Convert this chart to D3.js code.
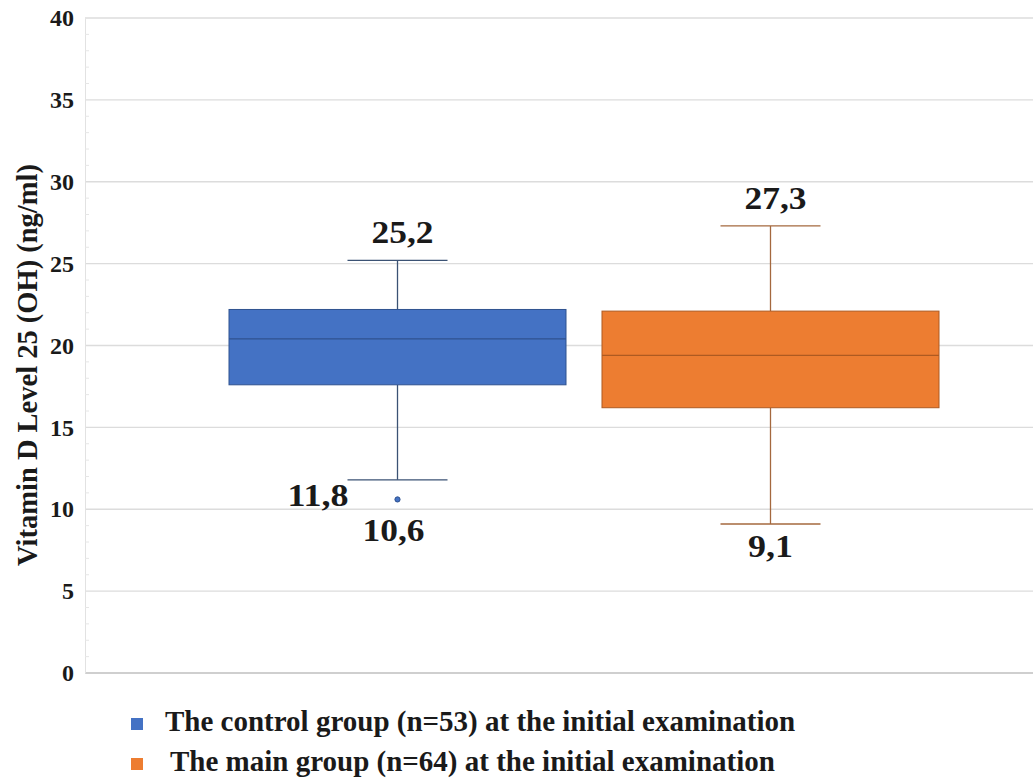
<!DOCTYPE html>
<html>
<head>
<meta charset="utf-8">
<script src="https://cdn.jsdelivr.net/npm/d3@7"></script>
<style>
  body { margin: 0; background: #fff; }
  text { font-family: "Liberation Serif", "Times New Roman", serif; font-weight: bold; fill: #1a1a1a; }
</style>
</head>
<body>
<div id="plot"></div>
<script>
// data
var groups = ["The control group (n=53) at the initial examination", "The main group (n=64) at the initial examination"]
var q1 = [17.6, 16.2]
var median = [20.4, 19.4]
var q3 = [22.2, 22.1]
var whiskerMin = [11.8, 9.1]
var whiskerMax = [25.2, 27.3]
var outliers = [[10.6], []]
var yTicks = [0, 5, 10, 15, 20, 25, 30, 35, 40]

var fills = ["#4472c4", "#ed7d31"]
var strokes = ["#2f528f", "#ae5a21"]
var whiskerColors = ["#3b5274", "#a4683e"]

var svgWidth = 1033
var svgHeight = 780
var margin = { top: 18, right: 0, bottom: 107, left: 85 }
var width = svgWidth - margin.left - margin.right
var height = svgHeight - margin.top - margin.bottom

var svg = d3.select("#plot")
  .append("svg")
  .attr("width", svgWidth)
  .attr("height", svgHeight)

var chartGroup = svg.append("g")
  .attr("transform", `translate(${margin.left}, ${margin.top})`)

var yScale = d3.scaleLinear()
  .domain([0, 40])
  .range([height, 0])

// boxes sit side by side inside the single category
var xScale = d3.scaleBand()
  .domain(groups)
  .range([144, 854])
  .paddingInner(0.0965)
  .paddingOuter(0)

// grid lines
chartGroup.append("g")
  .selectAll("line")
  .data(yTicks)
  .enter()
  .append("line")
  .attr("x1", 0)
  .attr("x2", width)
  .attr("y1", d => yScale(d))
  .attr("y2", d => yScale(d))
  .attr("stroke", d => d === 0 ? "#cfcfcf" : "#dcdcdc")
  .attr("stroke-width", d => d === 0 ? 2 : 1.3)

// left axis with minor ticks
var leftAxis = d3.axisLeft(yScale)
  .tickValues(yTicks)
  .tickSize(0)
  .tickPadding(11)
chartGroup.append("g")
  .call(leftAxis)
  .attr("font-family", "Liberation Serif")
  .attr("font-size", 24)
  .call(g => g.select(".domain").attr("stroke", "#e2e2e2"))
  .call(g => g.selectAll("text")
    .style("font-size", "24px")
    .style("font-weight", "bold")
    .attr("fill", "#1a1a1a"))

chartGroup.append("g")
  .selectAll("line")
  .data(d3.range(0, 41).filter(d => d % 5 !== 0))
  .enter()
  .append("line")
  .attr("x1", 0)
  .attr("x2", 4)
  .attr("y1", d => yScale(d))
  .attr("y2", d => yScale(d))
  .attr("stroke", "#e6e6e6")

// boxes
var boxes = chartGroup.selectAll(".box")
  .data(groups)
  .enter()
  .append("g")
  .attr("class", "box")

boxes.each(function (d, i) {
  var g = d3.select(this)
  var x0 = xScale(d)
  var bw = xScale.bandwidth()
  var cx = x0 + bw / 2
  var capW = 100

  // whiskers
  g.append("line")
    .attr("x1", cx).attr("x2", cx)
    .attr("y1", yScale(whiskerMax[i])).attr("y2", yScale(q3[i]))
    .attr("stroke", whiskerColors[i]).attr("stroke-width", 1.3)
  g.append("line")
    .attr("x1", cx).attr("x2", cx)
    .attr("y1", yScale(q1[i])).attr("y2", yScale(whiskerMin[i]))
    .attr("stroke", whiskerColors[i]).attr("stroke-width", 1.3)
  g.append("line")
    .attr("x1", cx - capW / 2).attr("x2", cx + capW / 2)
    .attr("y1", yScale(whiskerMax[i])).attr("y2", yScale(whiskerMax[i]))
    .attr("stroke", whiskerColors[i]).attr("stroke-width", 1.3)
  g.append("line")
    .attr("x1", cx - capW / 2).attr("x2", cx + capW / 2)
    .attr("y1", yScale(whiskerMin[i])).attr("y2", yScale(whiskerMin[i]))
    .attr("stroke", whiskerColors[i]).attr("stroke-width", 1.3)

  g.append("rect")
    .attr("x", x0)
    .attr("y", yScale(q3[i]))
    .attr("width", bw)
    .attr("height", yScale(q1[i]) - yScale(q3[i]))
    .attr("fill", fills[i])
    .attr("stroke", strokes[i])
    .attr("stroke-width", 1)

  g.append("line")
    .attr("x1", x0).attr("x2", x0 + bw)
    .attr("y1", yScale(median[i])).attr("y2", yScale(median[i]))
    .attr("stroke", strokes[i]).attr("stroke-width", 1.2)

  g.selectAll(".outlier")
    .data(outliers[i])
    .enter()
    .append("circle")
    .attr("cx", cx)
    .attr("cy", v => yScale(v))
    .attr("r", 2.6)
    .attr("fill", fills[i])
    .attr("stroke", strokes[i])

  // value labels
  g.append("text")
    .attr("x", cx + 5)
    .attr("y", yScale(whiskerMax[i]) - 17)
    .attr("text-anchor", "middle")
    .style("font-size", "31px")
    .attr("textLength", 62)
    .attr("lengthAdjust", "spacingAndGlyphs")
    .text(String(whiskerMax[i]).replace(".", ","))

  var minLabel = g.append("text")
    .style("font-size", "31px")
    .attr("lengthAdjust", "spacingAndGlyphs")
    .text(String(whiskerMin[i]).replace(".", ","))
  if (outliers[i].length) {
    minLabel.attr("x", cx - capW / 2 + 1)
      .attr("y", yScale(whiskerMin[i]) + 26)
      .attr("text-anchor", "end")
      .attr("textLength", 61)
  } else {
    minLabel.attr("x", cx)
      .attr("y", yScale(whiskerMin[i]) + 33)
      .attr("text-anchor", "middle")
      .attr("textLength", 45)
  }

  g.selectAll(".outlier-label")
    .data(outliers[i])
    .enter()
    .append("text")
    .attr("x", cx - 4)
    .attr("y", v => yScale(v) + 42)
    .attr("text-anchor", "middle")
    .style("font-size", "31px")
    .attr("textLength", 62)
    .attr("lengthAdjust", "spacingAndGlyphs")
    .text(v => String(v).replace(".", ","))
})

// y axis title
svg.append("text")
  .attr("transform", `translate(37, 365) rotate(-90)`)
  .attr("text-anchor", "middle")
  .style("font-size", "28.5px")
  .text("Vitamin D Level 25 (OH) (ng/ml)")

// legend
var legend = svg.append("g")
  .selectAll("g")
  .data(groups)
  .enter()
  .append("g")
  .attr("transform", (d, i) => `translate(131, ${718 + i * 40})`)

legend.append("rect")
  .attr("width", 12)
  .attr("height", 12)
  .attr("fill", (d, i) => fills[i])

legend.append("text")
  .attr("x", (d, i) => i === 0 ? 34 : 39)
  .attr("y", 13)
  .style("font-size", "29px")
  .text(d => d)
</script>
</body>
</html>
